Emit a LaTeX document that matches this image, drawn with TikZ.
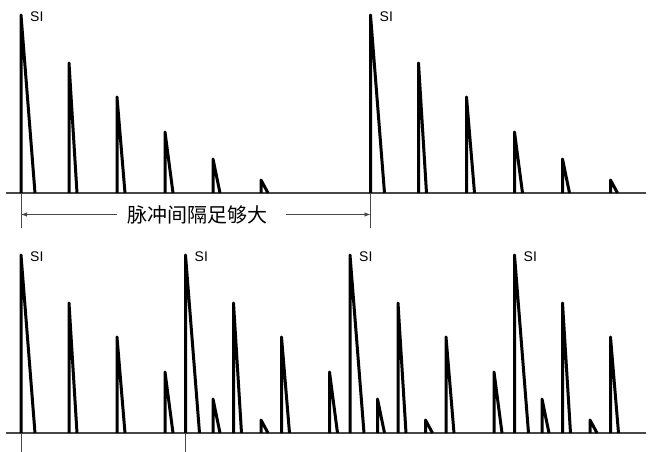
\documentclass[tikz,border=0pt]{standalone}
\usepackage{fontspec}
\setmainfont{Liberation Sans}
\newfontfamily\cjk{Noto Sans CJK SC}
\usetikzlibrary{arrows.meta}
\begin{document}
\begin{tikzpicture}[x=1pt,y=-1pt,
  pulse/.style={line width=3pt, line join=round, draw=black},
  axisline/.style={line width=1.3pt, draw=black!72},
  tickline/.style={line width=1pt, draw=black!72},
  dimline/.style={line width=0.9pt, draw=black!72, -{Latex[length=6pt,width=4.5pt]}},
  silabel/.style={font=\fontsize{14}{14}\selectfont, anchor=west, inner sep=0pt},
  gaplabel/.style={font=\cjk\fontsize{20}{20}\selectfont, inner sep=0pt}]
\useasboundingbox (0,0) rectangle (661,452);
\def\fullgroup{0/178/14,1/130/8,2/96/8,3/61/8,4/34/7,5/13/7}
% ---------- top panel ----------
\draw[axisline] (6,193) -- (646,193);
\foreach \xo/\gname in {21/ta,370.5/tb}{
  \foreach \k/\h/\d in \fullgroup{
    \draw[pulse] (\xo+\k*48,193) -- ++(0,-\h) -- (\xo+\k*48+\d,193);
  }
  \node[silabel] (si-\gname) at (\xo+9,17) {SI};
}
\coordinate (t1top) at (21,193);
\coordinate (t1bot) at (21,228);
\coordinate (t2top) at (370.5,193);
\coordinate (t2bot) at (370.5,228);
\draw[tickline] (t1top) -- (t1bot);
\draw[tickline] (t2top) -- (t2bot);
\node[gaplabel] (gap) at (197.5,214.5) {脉冲间隔足够大};
\coordinate (gL) at (117,214.5);
\coordinate (gR) at (286,214.5);
\draw[dimline] (gL) -- (gL -| t1top);
\draw[dimline] (gR) -- (gR -| t2top);
% ---------- bottom panel ----------
\draw[axisline] (6,433) -- (646,433);
\foreach \xo/\gname/\n in {21/ba/6,185.5/bb/6,350/bc/6,514.5/bd/3}{
  \foreach \k/\h/\d in \fullgroup{
    \ifnum\k<\n
      \draw[pulse] (\xo+\k*48,433) -- ++(0,-\h) -- (\xo+\k*48+\d,433);
    \fi
  }
  \node[silabel] (si-\gname) at (\xo+9,257) {SI};
}
\coordinate (b1top) at (21,433);
\coordinate (b1bot) at (21,452);
\coordinate (b2top) at (185.5,433);
\coordinate (b2bot) at (185.5,452);
\draw[tickline] (b1top) -- (b1bot);
\draw[tickline] (b2top) -- (b2bot);
\end{tikzpicture}
\end{document}
